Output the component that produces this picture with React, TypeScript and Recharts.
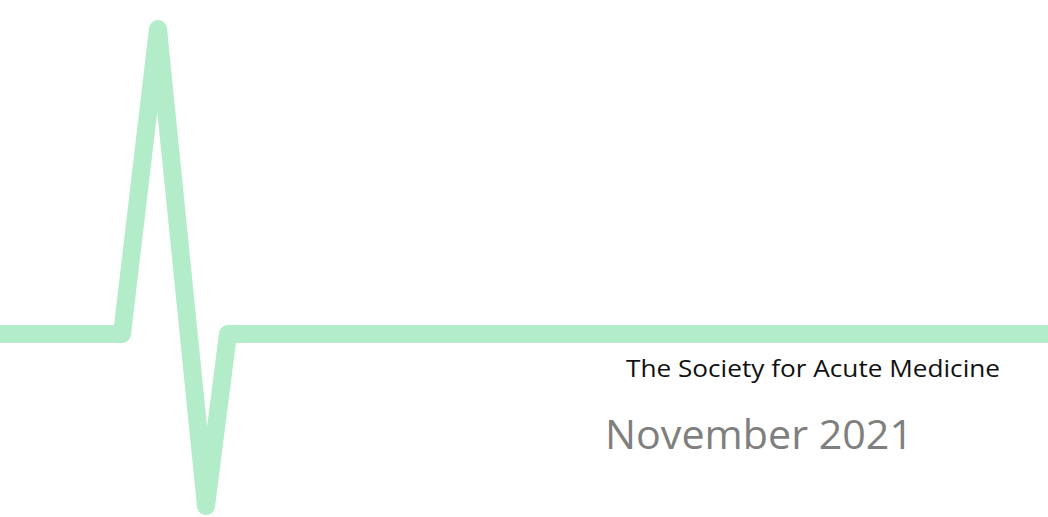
import React from "react";
import { LineChart, Line, XAxis, YAxis, Customized } from "recharts";

// ECG trace: time (arbitrary units) and amplitude (arbitrary units, baseline 0)
const traceTime = [0, 122, 158, 206, 228, 1048];
const traceAmplitude = [0, 0, 305, -172, 0, 0];

const titleLines = ["The Society for Acute Medicine", "November 2021"];

const data = traceTime.map((t, i) => ({ t, v: traceAmplitude[i] }));

const W = 1048;
const H = 517;

const Titles = () => (
  <g>
    <text
      x={626}
      y={377}
      fontFamily="'Open Sans', 'Noto Sans', sans-serif"
      fontSize={24}
      fill="#111111"
      textLength={374}
      lengthAdjust="spacingAndGlyphs"
    >
      {titleLines[0]}
    </text>
    <text
      x={605}
      y={449}
      fontFamily="'Open Sans', 'Noto Sans', sans-serif"
      fontSize={40}
      fill="#7f7f7f"
      textLength={308}
      lengthAdjust="spacingAndGlyphs"
    >
      {titleLines[1]}
    </text>
  </g>
);

export default function App() {
  return (
    <div style={{ position: "absolute", left: 0, top: 0, width: W, height: H, background: "#ffffff" }}>
      <LineChart width={W} height={H} data={data} margin={{ top: 0, right: 0, bottom: 0, left: 0 }}>
        <XAxis dataKey="t" type="number" domain={[0, 1048]} hide />
        <YAxis type="number" domain={[-183, 334]} hide />
        <Line
          dataKey="v"
          type="linear"
          stroke="#b2ecc9"
          strokeWidth={18}
          strokeLinecap="round"
          strokeLinejoin="round"
          dot={false}
          activeDot={false}
          isAnimationActive={false}
        />
        <Customized component={Titles} />
      </LineChart>
    </div>
  );
}
